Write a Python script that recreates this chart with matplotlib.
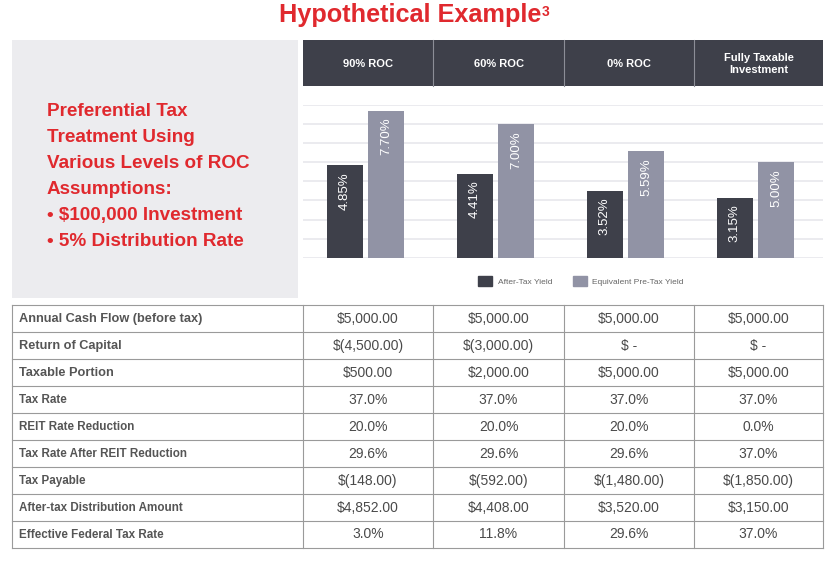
import matplotlib
matplotlib.use("Agg")
import matplotlib.pyplot as plt
from matplotlib.patches import Rectangle, Patch

plt.rcParams['font.family'] = ['Liberation Sans', 'DejaVu Sans']

# DATA
scenarios = ["90% ROC", "60% ROC", "0% ROC", "Fully Taxable\nInvestment"]
after_tax = [4.85, 4.41, 3.52, 3.15]
pre_tax = [7.70, 7.00, 5.59, 5.00]
series_names = ["After-Tax Yield", "Equivalent Pre-Tax Yield"]

row_labels = ["Annual Cash Flow (before tax)", "Return of Capital", "Taxable Portion",
              "Tax Rate", "REIT Rate Reduction", "Tax Rate After REIT Reduction",
              "Tax Payable", "After-tax Distribution Amount", "Effective Federal Tax Rate"]
col_90 = ["$5,000.00", "$(4,500.00)", "$500.00", "37.0%", "20.0%", "29.6%", "$(148.00)", "$4,852.00", "3.0%"]
col_60 = ["$5,000.00", "$(3,000.00)", "$2,000.00", "37.0%", "20.0%", "29.6%", "$(592.00)", "$4,408.00", "11.8%"]
col_0 = ["$5,000.00", "$ -", "$5,000.00", "37.0%", "20.0%", "29.6%", "$(1,480.00)", "$3,520.00", "29.6%"]
col_ft = ["$5,000.00", "$ -", "$5,000.00", "37.0%", "0.0%", "37.0%", "$(1,850.00)", "$3,150.00", "37.0%"]

panel_lines = ["Preferential Tax", "Treatment Using", "Various Levels of ROC", "Assumptions:",
               "\u2022 $100,000 Investment", "\u2022 5% Distribution Rate"]

RED = '#e0292e'
DARK = '#3e404a'
LIGHT = '#9193a5'
W, H = 830, 561

fig = plt.figure(figsize=(W / 100, H / 100), dpi=100)

# background axes in pixel coords
bg = fig.add_axes([0, 0, 1, 1])
bg.set_xlim(0, W)
bg.set_ylim(H, 0)
bg.axis('off')

# title with a small superscript
title = bg.text(410, 22, "Hypothetical Example", color=RED, fontsize=18.2,
                fontweight='bold', ha='center', va='baseline')
renderer = fig.canvas.get_renderer()
bb = title.get_window_extent(renderer=renderer)
bg.text(bb.x1 / fig.dpi * 100 + 1, 5, "3", color=RED, fontsize=10,
        fontweight='bold', ha='left', va='top')

# left grey panel
bg.add_patch(Rectangle((12, 40), 286, 258, color='#ececef', lw=0))
for i, line in enumerate(panel_lines):
    bg.text(47, 116 + i * 25.9, line, color=RED, fontsize=13.6, fontweight='bold',
            ha='left', va='baseline')

# header
col_edges = [303, 433, 564, 694, 823]
bg.add_patch(Rectangle((303, 40), 520, 46, color=DARK, lw=0))
for x in col_edges[1:-1]:
    bg.plot([x, x], [40, 86], color='#8c8e97', lw=0.8)
for i, name in enumerate(scenarios):
    cx = (col_edges[i] + col_edges[i + 1]) / 2
    bg.text(cx, 64, name, color='white', fontsize=8, fontweight='bold',
            ha='center', va='center', linespacing=1.3)

# table
top, rh = 305, 27
nrows = len(row_labels)
bottom = top + rh * nrows
lc = '#9a9a9a'
for r in range(nrows + 1):
    bg.plot([12, 823], [top + r * rh, top + r * rh], color=lc, lw=0.8)
for x in [12] + col_edges:
    bg.plot([x, x], [top, bottom], color=lc, lw=0.8)
columns = [col_90, col_60, col_0, col_ft]
for r, label in enumerate(row_labels):
    cy = top + r * rh + rh / 2
    fs = 9.2 if r < 3 else 8.4
    bg.text(19, cy, label, color='#555555', fontsize=fs, fontweight='bold',
            ha='left', va='center')
    for c, col in enumerate(columns):
        cx = (col_edges[c] + col_edges[c + 1]) / 2
        bg.text(cx, cy, col[r], color='#4a4a4a', fontsize=10, ha='center', va='center')

# bar chart axes
y0, y8 = 257.7, 105
ax = fig.add_axes([303 / W, (H - y0) / H, 520 / W, (y0 - y8) / H])
ax.set_xlim(-0.5, 3.5)
ax.set_ylim(0, 8)
ax.set_yticks(range(9))
ax.set_xticks([])
ax.tick_params(left=False, labelleft=False)
ax.grid(axis='y', color='#e8e8ec', lw=1.2)
ax.set_axisbelow(True)
for s in ax.spines.values():
    s.set_visible(False)
ax.patch.set_alpha(0)

xs = [i - 0.02 for i in range(len(scenarios))]
bw = 0.277
off = 0.158
b1 = ax.bar([x - off for x in xs], after_tax, bw, color=DARK)
b2 = ax.bar([x + off for x in xs], pre_tax, bw, color=LIGHT)
for bars, vals in [(b1, after_tax), (b2, pre_tax)]:
    for rect, v in zip(bars, vals):
        ax.annotate("%.2f%%" % v, (rect.get_x() + rect.get_width() / 2, v),
                    xytext=(0, -5), textcoords='offset points', rotation=90,
                    ha='center', va='top', color='white', fontsize=9.5)

handles = [Patch(color=DARK), Patch(color=LIGHT)]
fig.legend(handles, series_names, loc='center', bbox_to_anchor=(581 / W, (H - 281) / H),
           ncol=2, frameon=False, fontsize=6, handlelength=1.65, handleheight=1.65,
           handletextpad=0.7, columnspacing=2.5, labelcolor='#666666')

fig.savefig('out.png', dpi=100)
